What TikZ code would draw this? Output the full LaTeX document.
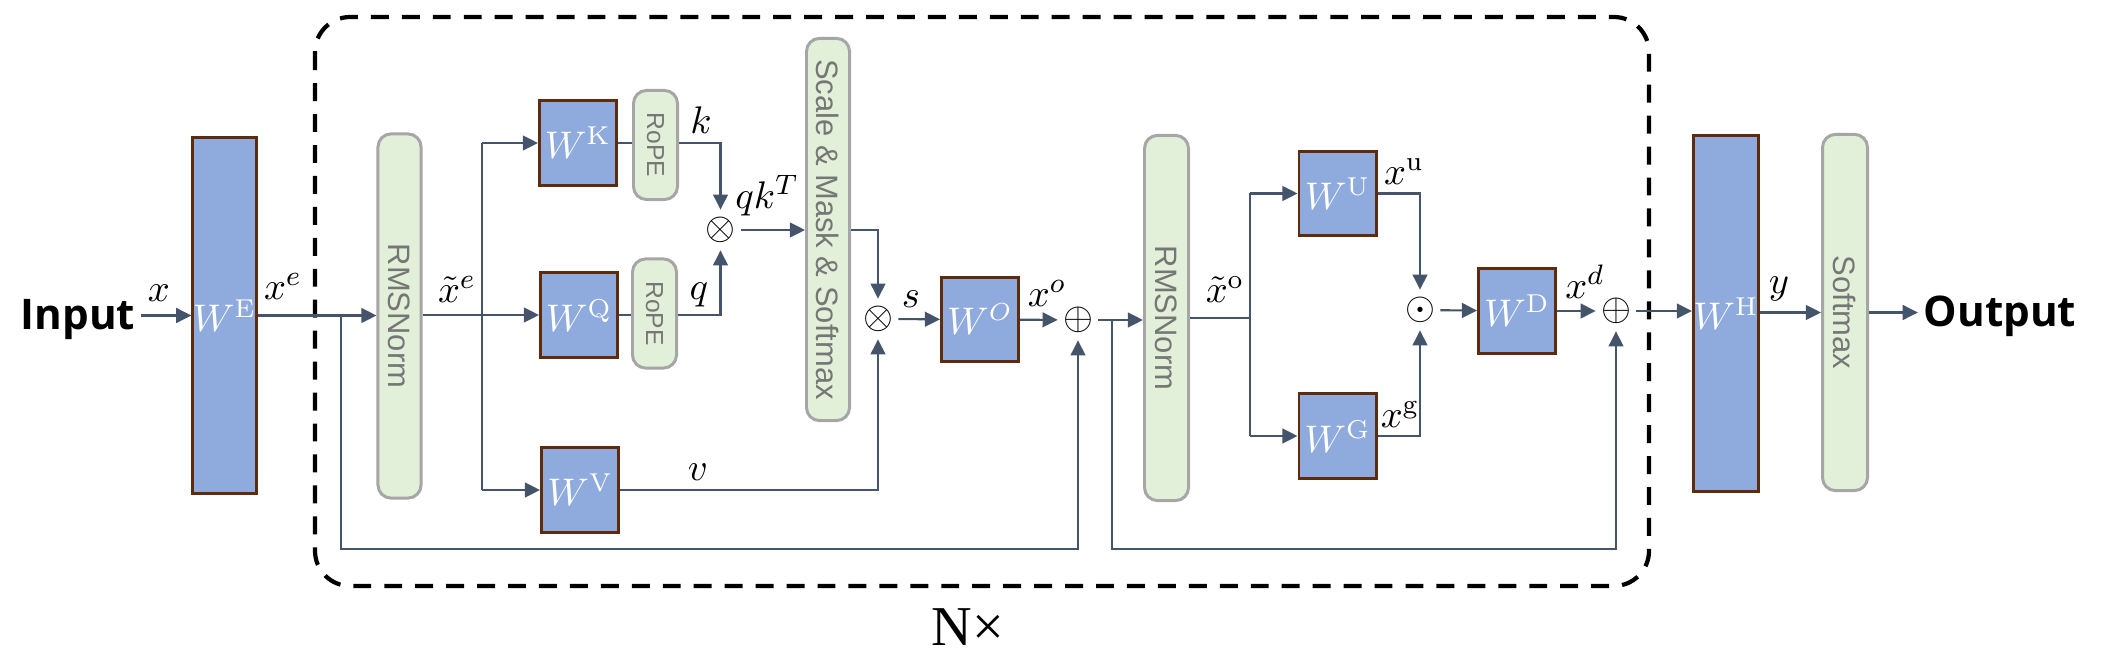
\documentclass[tikz,border=0pt]{standalone}
\usepackage{fontspec}
\usepackage{graphicx}
\newfontfamily\boxfont{Liberation Sans}
\newfontfamily\iofont{Open Sans}
\newfontfamily\repfont{Liberation Serif}
\usetikzlibrary{arrows.meta}
\definecolor{wfill}{HTML}{8FAADC}
\definecolor{wdraw}{HTML}{5E2C0C}
\definecolor{nfill}{HTML}{E2F0D9}
\definecolor{ndraw}{HTML}{A6A6A6}
\definecolor{ntext}{HTML}{767676}
\definecolor{linecol}{HTML}{44546A}

\begin{document}
\begin{tikzpicture}[x = 0.01cm, y = -0.01cm,
    wbox/.style = {
      rectangle, draw = wdraw, fill = wfill, line width = 0.85pt,
      inner sep = 0pt, text = white, font = \fontsize{10.5}{12}\selectfont
    },
    wsmall/.style = {wbox, minimum width = 0.77cm, minimum height = 0.84cm},
    normbox/.style = {
      rectangle, rounded corners = 3.7pt, draw = ndraw, fill = nfill,
      line width = 0.85pt, inner sep = 0pt, minimum width = 0.43cm,
      text = ntext, font = \boxfont\fontsize{8.8}{10}\selectfont
    },
    op/.style = {circle, inner sep = 0pt, font = \fontsize{11}{12}\selectfont},
    lbl/.style = {inner sep = 0pt, font = \fontsize{11}{12}\selectfont},
    io/.style = {inner sep = 1.5pt, font = \iofont\bfseries\fontsize{12}{14}\selectfont},
    link/.style = {draw = linecol, line width = 0.6pt},
    conn/.style = {link, -{Triangle[length = 4.3pt, width = 4.2pt]}}
  ]
  \useasboundingbox (0,0) rectangle (2103,667);

  % repeated block
  \draw [line width = 1.2pt, dash pattern = on 5.1pt off 3.7pt, rounded corners = 10pt]
    (315,17) rectangle (1649,586);
  \node [font = \repfont\fontsize{16}{18}\selectfont] (rep) at (968,627) {N×};

  % nodes
  \node [io, anchor = base] (in) at (78,330) {Input};
  \node [wbox, minimum width = 0.58cm, minimum height = 3.56cm] (WE) at (224.5,315.5)
    {$W^{\mathrm{E}}$};
  \coordinate (r1) at (341,315);
  \node [normbox, minimum height = 3.64cm] (n1) at (399.5,316) {\rotatebox{-90}{RMSNorm}};
  \coordinate (b1) at (482,315);
  \node [wsmall] (WK) at (578,143) {$W^{\mathrm{K}}$};
  \node [wsmall] (WQ) at (579,315) {$W^{\mathrm{Q}}$};
  \node [wsmall] (WV) at (580,490) {$W^{\mathrm{V}}$};
  \node [normbox, minimum width = 0.44cm, minimum height = 1.09cm,
    font = \boxfont\fontsize{7}{8}\selectfont] (rk) at (655.5,145) {\rotatebox{-90}{RoPE}};
  \node [normbox, minimum width = 0.44cm, minimum height = 1.09cm,
    font = \boxfont\fontsize{7}{8}\selectfont] (rq) at (654.5,313.5) {\rotatebox{-90}{RoPE}};
  \node [op] (mul1) at (720.5,230) {$\otimes$};
  \node [normbox, minimum height = 3.82cm] (sms) at (828,229.5)
    {\rotatebox{-90}{Scale \& Mask \& Softmax}};
  \node [op] (mul2) at (878,319) {$\otimes$};
  \node [wsmall] (WO) at (980,319.5) {$W^{O}$};
  \node [op] (add1) at (1078,320) {$\oplus$};
  \coordinate (r2) at (1112,319);
  \node [normbox, minimum width = 0.44cm, minimum height = 3.65cm] (n2) at (1166.5,318)
    {\rotatebox{-90}{RMSNorm}};
  \coordinate (b2) at (1250,318);
  \node [wsmall] (WU) at (1337.5,193.5) {$W^{\mathrm{U}}$};
  \node [wsmall] (WG) at (1337.5,436) {$W^{\mathrm{G}}$};
  \node [op] (had) at (1420,310) {$\odot$};
  \node [wsmall] (WD) at (1517,311) {$W^{\mathrm{D}}$};
  \node [op] (add2) at (1616,311) {$\oplus$};
  \node [wbox, minimum width = 0.6cm, minimum height = 3.56cm] (WH) at (1726,313.5)
    {$W^{\mathrm{H}}$};
  \node [normbox, minimum width = 0.45cm, minimum height = 3.56cm] (smx) at (1845,312.5)
    {\rotatebox{-90}{Softmax}};
  \node [io, anchor = base] (out) at (2000,327) {Output};
  \coordinate (low) at (0,549);

  % connectors
  \draw [conn] (in.east |- WE) -- (WE);
  \draw [conn] (WE.east) -- (WE.east -| n1.west);
  \draw [conn] (n1.east |- WQ) -- (WQ);
  \draw [link] (b1 |- WK) -- (b1 |- WV);
  \draw [conn] (b1 |- WK) -- (WK);
  \draw [conn] (b1 |- WV) -- (WV);
  \draw [link] (WK) -- (WK -| rk.west);
  \draw [link] (WQ) -- (WQ -| rq.west);
  \draw [conn] (WK -| rk.east) -| (mul1);
  \draw [conn] (WQ -| rq.east) -| (mul1);
  \draw [conn] (mul1) -- (mul1 -| sms.west);
  \draw [conn] (mul1 -| sms.east) -| (mul2);
  \draw [conn] (WV) -| (mul2);
  \draw [conn] (mul2) -- (WO);
  \draw [conn] (WO) -- (add1);
  \draw [conn] (r1) -- (r1 |- low) -| (add1);
  \draw [conn] (add1) -- (add1 -| n2.west);
  \draw [conn] (r2) -- (r2 |- low) -| (add2);
  \draw [link] (n2.east) -- (b2);
  \draw [link] (b2 |- WU) -- (b2 |- WG);
  \draw [conn] (b2 |- WU) -- (WU);
  \draw [conn] (b2 |- WG) -- (WG);
  \draw [conn] (WU) -| (had);
  \draw [conn] (WG) -| (had);
  \draw [conn] (had) -- (WD);
  \draw [conn] (WD) -- (add2);
  \draw [conn] (add2) -- (add2 -| WH.west);
  \draw [conn] (WH.east |- smx) -- (smx);
  \draw [conn] (smx) -- (smx -| out.west);

  % labels
  \node [lbl] (lx) at (159,293) {$x$};
  \node [lbl] (lxe) at (283,286) {$x^{e}$};
  \node [lbl] (lxn) at (457,289) {$\tilde{x}^{e}$};
  \node [lbl] (lk) at (701,120) {$k$};
  \node [lbl] (lq) at (699,295) {$q$};
  \node [lbl] (lqk) at (767,196) {$qk^{T}$};
  \node [lbl] (lv) at (698,472) {$v$};
  \node [lbl] (ls) at (911,299) {$s$};
  \node [lbl] (lxo) at (1047,293) {$x^{o}$};
  \node [lbl] (lxno) at (1225,289) {$\tilde{x}^{\mathrm{o}}$};
  \node [lbl] (lxu) at (1404,172) {$x^{\mathrm{u}}$};
  \node [lbl] (lxg) at (1400,414) {$x^{\mathrm{g}}$};
  \node [lbl] (lxd) at (1585,282) {$x^{d}$};
  \node [lbl] (ly) at (1779,289) {$y$};
\end{tikzpicture}
\end{document}
